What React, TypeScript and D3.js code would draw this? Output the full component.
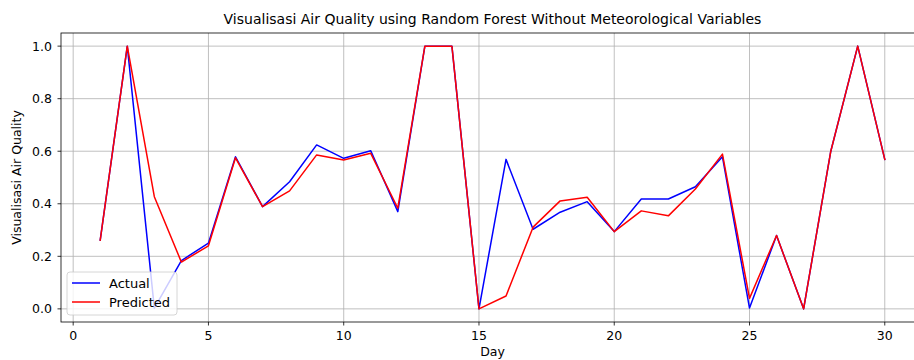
import React from "react";
import * as d3 from "d3";

const days = d3.range(1, 31);
const actual = [0.262, 1.0, 0.003, 0.184, 0.25, 0.579, 0.389, 0.484, 0.624, 0.573,
  0.602, 0.37, 1.0, 1.0, 0.0, 0.569, 0.303, 0.368, 0.408, 0.294,
  0.418, 0.418, 0.465, 0.579, 0.003, 0.279, 0.0, 0.598, 1.0, 0.569];
const predicted = [0.262, 1.0, 0.427, 0.178, 0.24, 0.575, 0.389, 0.449, 0.586, 0.567,
  0.592, 0.383, 1.0, 1.0, 0.0, 0.049, 0.311, 0.411, 0.425, 0.294,
  0.373, 0.354, 0.456, 0.589, 0.04, 0.279, 0.0, 0.598, 1.0, 0.569];
const xTicks = [0, 5, 10, 15, 20, 25, 30];
const yTicks = [0, 0.2, 0.4, 0.6, 0.8, 1.0];

export default function App() {
  const W = 914, H = 360;
  const left = 61, right = 924, top = 33, bottom = 322;
  const x = d3.scaleLinear().domain([-0.45, 31.45]).range([left, right]);
  const y = d3.scaleLinear().domain([-0.05, 1.05]).range([bottom, top]);
  const line = (vals: number[]) =>
    d3.line<number>().x((_, i) => x(days[i])).y((v) => y(v))(vals) || "";
  const font = "DejaVu Sans, sans-serif";
  return (
    <svg width={W} height={H} style={{ position: "absolute", left: 0, top: 0 }} fontFamily={font}>
      <rect width={W} height={H} fill="#fff" />
      <g>
        {xTicks.map((t) => (
          <line key={"gx" + t} x1={x(t)} x2={x(t)} y1={top} y2={bottom} stroke="#b0b0b0" strokeWidth={0.8} />
        ))}
        {yTicks.map((t) => (
          <line key={"gy" + t} x1={left} x2={right} y1={y(t)} y2={y(t)} stroke="#b0b0b0" strokeWidth={0.8} />
        ))}
      </g>
      <path d={line(actual)} fill="none" stroke="#0000ff" strokeWidth={1.5} strokeLinejoin="round" strokeLinecap="square" />
      <path d={line(predicted)} fill="none" stroke="#ff0000" strokeWidth={1.5} strokeLinejoin="round" strokeLinecap="square" />
      <rect x={left} y={top} width={right - left} height={bottom - top} fill="none" stroke="#000" strokeWidth={0.8} />
      {xTicks.map((t) => (
        <g key={"tx" + t}>
          <line x1={x(t)} x2={x(t)} y1={bottom} y2={bottom + 3.5} stroke="#000" strokeWidth={0.8} />
          <text x={x(t)} y={bottom + 18} textAnchor="middle" fontSize={12.5} fill="#000">{t}</text>
        </g>
      ))}
      {yTicks.map((t) => (
        <g key={"ty" + t}>
          <line x1={left - 3.5} x2={left} y1={y(t)} y2={y(t)} stroke="#000" strokeWidth={0.8} />
          <text x={left - 9} y={y(t)} dy="0.35em" textAnchor="end" fontSize={12.5} fill="#000">{t.toFixed(1)}</text>
        </g>
      ))}
      <text x={(left + right) / 2} y={355.5} textAnchor="middle" fontSize={12.5} fill="#000">Day</text>
      <text transform={`translate(21,${(top + bottom) / 2}) rotate(-90)`} textAnchor="middle" fontSize={12.5} fill="#000">Visualisasi Air Quality</text>
      <text x={(left + right) / 2} y={24} textAnchor="middle" fontSize={14} fill="#000">Visualisasi Air Quality using Random Forest Without Meteorological Variables</text>
      <g>
        <rect x={67} y={272} width={110} height={43} rx={3} fill="#fff" fillOpacity={0.8} stroke="#cccccc" strokeWidth={0.8} />
        <line x1={72} x2={100} y1={283} y2={283} stroke="#0000ff" strokeWidth={1.5} />
        <text x={109} y={283} dy="0.35em" fontSize={13} fill="#000">Actual</text>
        <line x1={72} x2={100} y1={302} y2={302} stroke="#ff0000" strokeWidth={1.5} />
        <text x={109} y={302} dy="0.35em" fontSize={13} fill="#000">Predicted</text>
      </g>
    </svg>
  );
}
